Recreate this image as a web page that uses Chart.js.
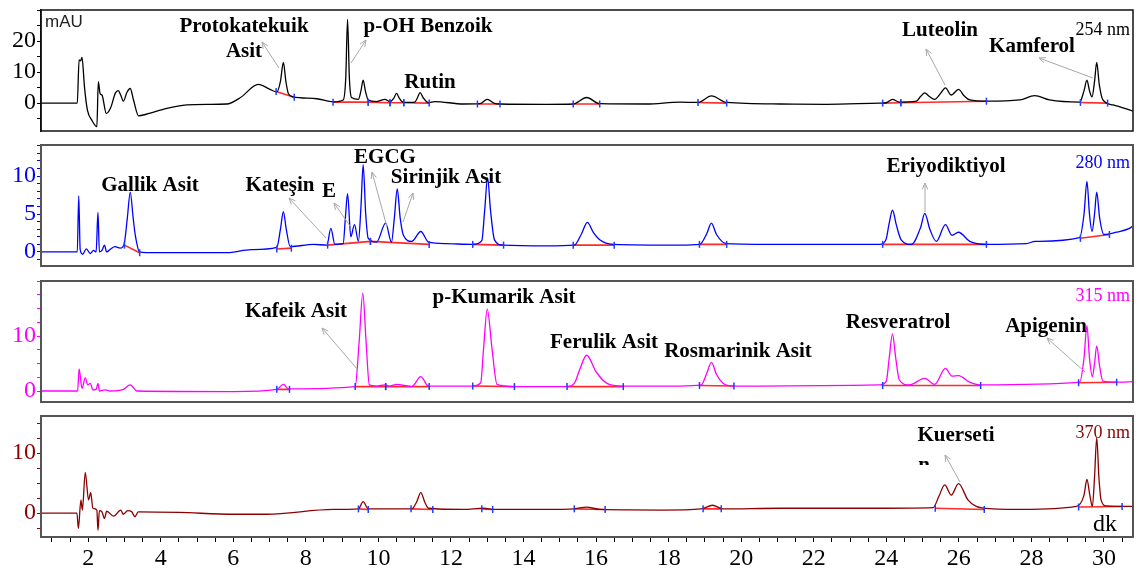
<!DOCTYPE html>
<html>
<head>
<meta charset="utf-8">
<script src="https://cdn.jsdelivr.net/npm/chart.js@4.4.0/dist/chart.umd.min.js"></script>
<style>
  html, body { margin: 0; padding: 0; background: #fff; }
  #wrap { position: relative; width: 1139px; height: 572px; overflow: hidden; }
  canvas { position: absolute; left: 0; }
</style>
</head>
<body>
<div id="wrap">
  <canvas id="c254"></canvas>
  <canvas id="c280"></canvas>
  <canvas id="c315"></canvas>
  <canvas id="c370"></canvas>
</div>
<script>
const SERIF = '"Liberation Serif", "Times New Roman", serif';
const timeMin = 0.7, timeMax = 30.8;
const timeTickLabels = [2, 4, 6, 8, 10, 12, 14, 16, 18, 20, 22, 24, 26, 28, 30];

// chromatograms: [time (min), absorbance (mAU)]
const trace254 = [[0.70,0],[1.70,0],[1.75,13.9],[1.79,13.6],[1.83,14.7],[1.90,5],[1.98,-2.3],[2.10,-5.5],[2.24,-7.6],[2.28,6.9],[2.33,3.0],[2.38,2.6],[2.50,-3.3],[2.62,-1.5],[2.75,3.2],[2.83,4.0],[2.90,2.5],[2.97,0.6],[3.07,3.5],[3.16,4.7],[3.25,1],[3.39,-4.1],[3.6,-3.6],[4.17,-1.7],[4.72,-0.6],[5.3,-0.4],[5.82,-0.3],[6.2,1.8],[6.69,6.0],[7.0,4.5],[7.20,3.6],[7.30,7],[7.38,13.1],[7.45,7],[7.52,3.0],[7.65,2.0],[8.30,1.4],[8.76,0.4],[9.03,1.0],[9.10,8],[9.15,27],[9.20,8],[9.26,1.8],[9.45,1.2],[9.52,4],[9.58,7.4],[9.64,4],[9.72,1.0],[9.95,0.5],[10.18,1.2],[10.32,0.4],[10.42,1.5],[10.50,3.1],[10.58,1.5],[10.69,0.2],[11.0,0.3],[11.08,1.8],[11.15,3.4],[11.23,1.8],[11.38,0.1],[11.55,0.5],[12.34,-0.3],[12.8,-0.2],[13.0,1.2],[13.2,-0.1],[13.35,-0.3],[14.64,-0.4],[15.37,-0.3],[15.74,1.8],[16.1,-0.2],[17.39,-0.3],[18.31,0.3],[18.81,0.2],[19.18,2.3],[19.6,0.2],[21.06,-0.3],[22.35,-0.4],[23.82,0],[24.0,0.1],[24.17,1.2],[24.36,0.3],[24.83,0.6],[24.95,2.2],[25.06,3.3],[25.18,2.2],[25.33,1.2],[25.50,3.2],[25.63,4.9],[25.79,2.6],[25.99,4.4],[26.15,2.3],[26.30,1.0],[26.76,0.6],[27.68,1.0],[28.09,2.4],[28.5,1.0],[29.33,0.3],[29.45,4],[29.53,7.4],[29.60,4],[29.67,2.0],[29.74,7],[29.80,13.1],[29.87,6],[29.97,1.0],[30.25,-0.6],[30.80,-2.6]];
const trace280 = [[0.70,0],[1.70,0],[1.74,7.4],[1.78,0.3],[1.85,-0.3],[1.95,0.4],[2.06,-0.2],[2.15,0.2],[2.22,0],[2.27,5.2],[2.31,0],[2.38,0.2],[2.45,0.9],[2.51,0],[2.62,0.4],[2.74,0.7],[2.88,0.5],[2.99,1.0],[3.08,4.5],[3.16,7.9],[3.24,4.5],[3.30,2.2],[3.42,0],[3.6,-0.1],[5.82,-0.1],[6.5,0.3],[7.2,0.6],[7.30,3],[7.38,5.3],[7.46,3],[7.57,0.7],[8.21,1.0],[8.58,0.9],[8.69,3.1],[8.80,1.0],[9.03,1.1],[9.09,4.5],[9.15,7.7],[9.24,2.0],[9.34,3.6],[9.45,1.4],[9.52,6],[9.58,11.5],[9.65,5],[9.72,1.8],[9.95,1.3],[10.2,3.8],[10.36,1.3],[10.44,4.5],[10.52,8.3],[10.60,4.5],[10.69,2.2],[10.92,1.4],[11.17,2.7],[11.38,1.3],[11.88,1.1],[12.61,1.0],[12.85,1.5],[12.93,5.5],[13.01,9.8],[13.09,5.5],[13.2,1.6],[13.43,0.9],[14.64,0.8],[15.4,0.9],[15.6,2.4],[15.76,3.9],[15.92,2.6],[16.1,1.6],[16.47,1.0],[18.31,0.9],[18.86,1.0],[19.05,2.4],[19.18,3.8],[19.32,2.3],[19.59,1.1],[21.06,1.0],[23.82,1.0],[23.99,1.6],[24.08,3.8],[24.17,5.5],[24.28,3.5],[24.41,1.6],[24.69,1.0],[24.95,3.3],[25.06,5.1],[25.2,3],[25.38,1.4],[25.63,3.6],[25.81,2.2],[25.99,2.6],[26.3,1.4],[26.76,1.0],[27.86,1.1],[28.1,1.4],[29.33,1.9],[29.45,5],[29.53,9.3],[29.60,5],[29.67,2.7],[29.74,5],[29.80,7.9],[29.88,4.5],[30.0,2.3],[30.34,2.6],[30.70,3.1],[30.84,3.6]];
const trace315 = [[0.70,0],[1.71,0],[1.75,4.0],[1.83,0.5],[1.92,2.4],[1.99,1.1],[2.06,1.4],[2.13,0.2],[2.22,0.3],[2.27,1.4],[2.31,0],[2.47,0.2],[2.6,0],[2.97,0.3],[3.16,1.1],[3.34,0],[6.0,-0.1],[7.2,0.3],[7.38,1.2],[7.52,0.4],[9.36,0.8],[9.47,9],[9.57,17.8],[9.66,9],[9.75,1.1],[9.95,0.9],[10.18,1.1],[10.32,0.9],[10.5,1.2],[10.92,0.8],[11.17,2.6],[11.38,0.9],[12.61,0.9],[12.82,1.5],[12.9,7.8],[13.0,14.9],[13.13,7.8],[13.27,1.2],[13.73,0.8],[15.19,0.8],[15.4,1.4],[15.56,4.1],[15.74,6.5],[16.0,3.5],[16.3,1.4],[16.74,0.9],[18.31,0.9],[18.9,1.1],[19.05,3.2],[19.18,5.2],[19.32,3.0],[19.5,1.4],[19.77,0.9],[20.51,0.9],[23.82,1.1],[24.0,1.8],[24.08,6],[24.17,10.4],[24.26,6],[24.36,2.0],[24.63,1.1],[25.06,2.3],[25.33,1.2],[25.63,4.1],[25.81,2.7],[25.99,2.8],[26.3,1.6],[26.58,1.1],[29.33,1.6],[29.45,6],[29.53,11.9],[29.60,6],[29.68,2.6],[29.74,5],[29.80,8.2],[29.88,4.5],[29.97,1.8],[30.34,1.6],[30.84,1.7]];
const trace370 = [[0.70,0],[1.69,0],[1.73,-2.6],[1.80,2.2],[1.84,0.5],[1.92,6.8],[2.01,2.2],[2.07,3.4],[2.13,0.8],[2.24,0.5],[2.27,-2.9],[2.31,0.4],[2.38,0.2],[2.45,-0.9],[2.51,0.3],[2.70,-0.5],[2.90,0.5],[2.97,-0.2],[3.09,0.4],[3.2,0.2],[3.29,-0.6],[3.38,0.2],[4.5,0.1],[6.0,-0.2],[6.92,-0.2],[8.76,0.6],[9.45,0.7],[9.58,1.9],[9.72,0.7],[10.92,0.7],[11.05,1.8],[11.17,3.4],[11.28,1.8],[11.38,0.8],[12.34,0.6],[12.9,0.8],[13.2,0.6],[14.64,0.6],[15.4,0.7],[15.74,1.0],[16.1,0.6],[17.85,0.5],[18.9,0.7],[19.21,1.3],[19.5,0.7],[21.06,0.8],[23.98,0.8],[25.29,0.9],[25.45,2.8],[25.61,4.7],[25.79,3.0],[25.99,4.9],[26.25,2.2],[26.48,1.1],[26.94,0.7],[27.77,0.6],[29.24,1.1],[29.45,3.0],[29.53,5.6],[29.61,3.0],[29.68,1.1],[29.74,6],[29.80,12.6],[29.86,6],[29.92,2.2],[30.06,1.2],[30.8,1.1]];

// integration baselines: [t1, v1, t2, v2]
const base254 = [[7.18,3.7,7.68,1.9],[8.75,0.3,9.72,0.3],[9.72,0.3,10.32,0.1],[10.32,0.1,10.7,0.1],[10.7,0.1,11.4,0],[12.73,-0.3,13.35,-0.3],[15.37,-0.3,16.1,-0.3],[18.81,0.2,19.6,0],[23.9,0,24.4,0.1],[24.4,0.1,26.76,0.6],[29.35,0.2,30.1,0]];
const base280 = [[3.0,0.9,3.42,-0.1],[7.2,0.4,7.6,0.5],[8.6,0.9,9.78,1.4],[9.78,1.4,11.4,1.0],[12.6,1.0,13.45,0.9],[15.37,0.9,16.5,0.9],[18.85,1.0,19.6,1.0],[23.9,1.0,26.76,1.0],[29.35,1.8,30.15,2.3]];
const base315 = [[7.2,0.3,7.55,0.3],[9.36,0.8,10.2,0.8],[10.2,0.8,11.4,0.8],[12.6,0.9,13.75,0.8],[15.2,0.8,16.75,0.8],[18.85,1.0,19.8,0.9],[23.9,1.0,26.6,1.0],[29.3,1.5,30.35,1.6]];
const base370 = [[9.45,0.7,9.72,0.6],[10.9,0.7,11.5,0.6],[12.85,0.7,13.15,0.6],[15.4,0.7,16.25,0.6],[18.95,0.7,19.45,0.7],[25.35,0.8,26.7,0.6],[29.3,1.0,30.5,1.1]];

// compound names: [text, x, y] (page px)
const names254 = [['Protokatekuik',244,27],['Asit',244,52],['p-OH Benzoik',428,27],['Rutin',430,83],['Luteolin',940,31],['Kamferol',1032,47]];
const names280 = [['Gallik Asit',150,186],['Kateşin',280,186],['E',329,192],['EGCG',385,158],['Sirinjik Asit',446,178],['Eriyodiktiyol',946,167]];
const names315 = [['Kafeik Asit',296,312],['p-Kumarik Asit',504,298],['Ferulik Asit',604,343],['Rosmarinik Asit',738,352],['Resveratrol',898,323],['Apigenin',1046,327]];
const names370 = [['Kuerseti',956,436]];

const arrows254 = [[279,68,262,42],[351,63,366,40],[945,85,926,49],[1093,78,1039,58]];
const arrows280 = [[326,238,289,198],[350,226,334,203],[387,227,372,172],[403,222,413,193],[925,212,925,183]];
const arrows315 = [[358,370,322,328],[1085,372,1047,338]];
const arrows370 = [[960,482,945,455]];

const panels = [
  { id: 'c254', top: 10, bottom: 131, color: '#000000', frame: '#111', frameW: 1.5, yMin: -9, yMax: 30, step: 5, yLabels: [0, 10, 20],
    trace: trace254, base: base254, names: names254, arrows: arrows254, nm: '254 nm', nmY: 30 },
  { id: 'c280', top: 145, bottom: 266, color: '#0000ff', frame: '#555', frameW: 2, yMin: -1.85, yMax: 14.1, step: 1, yLabels: [0, 5, 10],
    trace: trace280, base: base280, names: names280, arrows: arrows280, nm: '280 nm', nmY: 163 },
  { id: 'c315', top: 281, bottom: 402, color: '#ff00ff', frame: '#555', frameW: 2, yMin: -2, yMax: 20, step: 2.5, yLabels: [0, 10],
    trace: trace315, base: base315, names: names315, arrows: arrows315, nm: '315 nm', nmY: 296 },
  { id: 'c370', top: 416, bottom: 537, color: '#8b0000', frame: '#555', frameW: 2, yMin: -4, yMax: 16.2, step: 2.5, yLabels: [0, 10],
    trace: trace370, base: base370, names: names370, arrows: arrows370, nm: '370 nm', nmY: 433, bottomAxis: true }
];

// every step inside [min, max]
function stepTicks(min, max, step) {
  const out = [];
  for (let k = Math.ceil(min / step - 1e-9); k * step <= max + 1e-9; k++) out.push({ value: Math.round(k * step * 1000) / 1000 });
  return out;
}

function drawArrow(ctx, x1, y1, x2, y2) {
  const a = Math.atan2(y2 - y1, x2 - x1);
  ctx.beginPath();
  ctx.moveTo(x1, y1); ctx.lineTo(x2, y2);
  ctx.moveTo(x2 - 7 * Math.cos(a - 0.4), y2 - 7 * Math.sin(a - 0.4));
  ctx.lineTo(x2, y2);
  ctx.lineTo(x2 - 7 * Math.cos(a + 0.4), y2 - 7 * Math.sin(a + 0.4));
  ctx.stroke();
}

function makeDecor(p, off) {
  return {
    id: 'decor_' + p.id,
    afterDatasetsDraw(chart) {
      const { ctx, chartArea: a } = chart;
      ctx.save();
      ctx.strokeStyle = p.frame; ctx.lineWidth = p.frameW;
      ctx.strokeRect(a.left, a.top, a.right - a.left, a.bottom - a.top);
      ctx.strokeStyle = '#a8a8a8'; ctx.lineWidth = 1;
      p.arrows.forEach(r => drawArrow(ctx, r[0], r[1] - off, r[2], r[3] - off));
      ctx.fillStyle = '#000';
      ctx.font = 'bold 21px ' + SERIF;
      ctx.textAlign = 'center'; ctx.textBaseline = 'middle';
      p.names.forEach(n => ctx.fillText(n[0], n[1], n[2] - off));
      ctx.textAlign = 'right';
      ctx.font = '18px ' + SERIF;
      ctx.fillStyle = p.color;
      ctx.fillText(p.nm, 1130, p.nmY - off);
      if (p.id === 'c254') {
        ctx.textAlign = 'left'; ctx.fillStyle = '#222';
        ctx.font = '17px "Liberation Sans", Arial, sans-serif';
        ctx.fillText('mAU', 45, 22 - off);
      }
      if (p.id === 'c370') {
        ctx.save();
        ctx.beginPath(); ctx.rect(900, 440 - off, 60, 25); ctx.clip();
        ctx.fillStyle = '#000'; ctx.textAlign = 'center';
        ctx.font = 'bold 21px ' + SERIF;
        ctx.fillText('n', 924, 466 - off);
        ctx.restore();
        ctx.fillStyle = '#000'; ctx.textAlign = 'center';
        ctx.font = '24px ' + SERIF;
        ctx.fillText('dk', 1105, 525 - off);
      }
      ctx.restore();
    }
  };
}

panels.forEach(p => {
  const padTop = 20;
  const off = p.top - padTop;
  const xAxisH = 35;
  const height = p.bottomAxis ? (p.bottom - p.top) + padTop + xAxisH : (p.bottom - p.top) + 2 * padTop;
  const cv = document.getElementById(p.id);
  cv.width = 1139; cv.height = height;
  cv.style.top = off + 'px';

  const basePts = [];
  p.base.forEach(s => { basePts.push({ x: s[0], y: s[1] }, { x: s[2], y: s[3] }, { x: s[2], y: null }); });
  const tickPts = [];
  p.base.forEach(s => { tickPts.push({ x: s[0], y: s[1] }, { x: s[2], y: s[3] }); });

  new Chart(cv.getContext('2d'), {
    type: 'line',
    data: {
      datasets: [
        { data: tickPts, showLine: false, pointStyle: 'line', rotation: 90, pointRadius: 3.5,
          borderColor: '#1f3cff', borderWidth: 1.5, backgroundColor: '#1f3cff' },
        { data: p.trace.map(q => ({ x: q[0], y: q[1] })), borderColor: p.color, borderWidth: 1.3,
          pointRadius: 0, cubicInterpolationMode: 'monotone', fill: false },
        { data: basePts, borderColor: '#ff2a2a', borderWidth: 1.6, pointRadius: 0, spanGaps: false, fill: false }
      ]
    },
    options: {
      responsive: false,
      animation: false,
      events: [],
      layout: { padding: { left: 0, right: 6, top: padTop, bottom: p.bottomAxis ? 0 : padTop } },
      plugins: { legend: { display: false }, tooltip: { enabled: false } },
      scales: {
        x: {
          type: 'linear', min: timeMin, max: timeMax, display: !!p.bottomAxis,
          afterFit(s) { if (p.bottomAxis) s.height = xAxisH; },
          afterBuildTicks(s) { s.ticks = stepTicks(timeMin, timeMax, 0.5); },
          ticks: {
            autoSkip: false, maxRotation: 0, color: '#000', padding: 2,
            font: { family: SERIF, size: 24 },
            callback: v => timeTickLabels.some(t => Math.abs(t - v) < 1e-6) ? String(Math.round(v)) : ''
          },
          grid: { drawOnChartArea: false, tickLength: 5, tickColor: '#000' },
          border: { color: '#000', width: 1.5 }
        },
        y: {
          type: 'linear', min: p.yMin, max: p.yMax,
          afterFit(s) { s.width = 41; },
          afterBuildTicks(s) { s.ticks = stepTicks(p.yMin, p.yMax, p.step); },
          ticks: {
            autoSkip: false, color: p.color, padding: 1,
            font: { family: SERIF, size: 24 },
            callback: v => p.yLabels.some(t => Math.abs(t - v) < 1e-6) ? String(Math.round(v)) : ''
          },
          grid: { drawOnChartArea: false, tickLength: 4, tickColor: p.color },
          border: { color: '#000', width: 1.5 }
        }
      }
    },
    plugins: [makeDecor(p, off)]
  });
});
</script>
</body>
</html>
